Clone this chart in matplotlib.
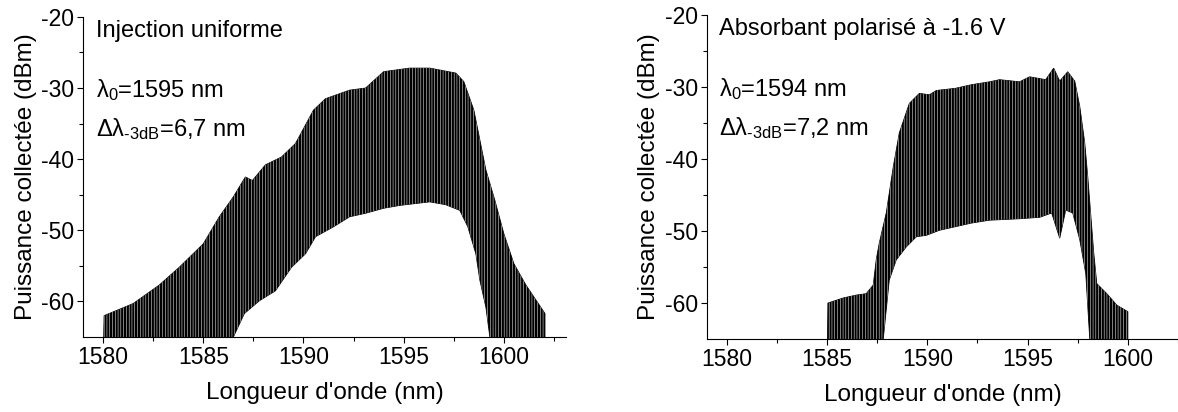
import numpy as np
import matplotlib
matplotlib.use('Agg')
from matplotlib import pyplot as plt

plt.rcParams['font.family'] = ['Liberation Sans', 'DejaVu Sans']
plt.rcParams['mathtext.fontset'] = 'custom'
plt.rcParams['mathtext.rm'] = 'Liberation Sans'
plt.rcParams['mathtext.it'] = 'Liberation Sans'
plt.rcParams['axes.unicode_minus'] = False
plt.rcParams['hatch.linewidth'] = 0.35

# spectrum envelopes (wavelength nm, power dBm)
# left panel: injection uniforme
up1_wl = [1580.0, 1580.05, 1581.5, 1582.8, 1583.8, 1585.0, 1585.8, 1586.5, 1587.1, 1587.45,
          1588.1, 1588.9, 1589.6, 1590.5, 1591.1, 1592.3, 1593.1, 1594.0, 1595.3, 1596.3,
          1597.6, 1598.0, 1598.5, 1598.8, 1599.1, 1599.55, 1600.0, 1600.5, 1601.1, 1602.05]
up1_db = [-70, -62.0, -60.3, -57.7, -55.2, -51.9, -48.1, -45.3, -42.5, -43.0,
          -40.8, -39.7, -37.8, -33.1, -31.5, -30.3, -30.0, -27.7, -27.2, -27.2,
          -27.9, -29.1, -33.1, -37.3, -41.5, -45.8, -50.5, -54.7, -57.7, -61.7]
lo1_wl = [1580.0, 1586.3, 1586.5, 1587.05, 1587.8, 1588.6, 1589.4, 1590.1, 1590.6, 1591.5,
          1592.3, 1593.1, 1594.0, 1594.8, 1596.3, 1597.1, 1597.8, 1598.2, 1598.6, 1598.8,
          1599.1, 1599.3, 1599.5, 1602.05]
lo1_db = [-70, -70, -65.0, -61.7, -59.9, -58.5, -55.2, -53.3, -50.9, -49.5,
          -48.1, -47.6, -46.9, -46.5, -46.0, -46.4, -47.2, -49.5, -53.3, -57.0,
          -60.8, -65.0, -70, -70]

# right panel: absorbant polarise a -1.6 V
up2_wl = [1585.0, 1585.04, 1585.8, 1586.45, 1586.95, 1587.3, 1587.45, 1587.6, 1587.95, 1588.3,
          1588.6, 1589.1, 1589.6, 1590.1, 1590.45, 1591.4, 1592.2, 1593.1, 1593.6, 1594.6,
          1595.1, 1595.9, 1596.3, 1596.6, 1597.0, 1597.35, 1597.6, 1597.85, 1598.0, 1598.3,
          1598.45, 1598.95, 1599.45, 1600.0]
up2_db = [-70, -60.0, -59.3, -58.9, -58.7, -57.5, -54.0, -51.7, -47.5, -41.1,
          -36.4, -32.3, -30.9, -31.1, -30.5, -30.2, -29.7, -29.3, -29.0, -29.3,
          -28.6, -29.0, -27.4, -29.2, -27.9, -29.2, -32.7, -37.8, -42.5, -53.1,
          -57.3, -58.7, -60.3, -61.2]
lo2_wl = [1585.0, 1587.7, 1587.8, 1588.1, 1588.45, 1588.95, 1589.45, 1589.95, 1590.6, 1591.4,
          1592.2, 1593.1, 1594.6, 1595.6, 1596.2, 1596.6, 1596.9, 1597.25, 1597.6, 1597.9,
          1598.1, 1598.2, 1600.0]
lo2_db = [-70, -70, -65.0, -56.8, -54.0, -52.2, -50.8, -50.6, -49.9, -49.4,
          -48.9, -48.5, -48.3, -48.1, -47.5, -51.0, -47.1, -47.5, -51.2, -55.9,
          -65.0, -70, -70]

titles = ['Injection uniforme', 'Absorbant polarisé à -1.6 V']
lambda0 = ['1595', '1594']
dlambda = ['6,7', '7,2']

fig = plt.figure(figsize=(11.78, 4.12), dpi=100)
ax1 = fig.add_axes([0.0705, 0.182, 0.41, 0.777])
ax2 = fig.add_axes([0.600, 0.177, 0.400, 0.787])

data = [(up1_wl, up1_db, lo1_wl, lo1_db), (up2_wl, up2_db, lo2_wl, lo2_db)]
xlims = [(1579.0, 1603.1), (1579.0, 1602.5)]

for i, ax in enumerate([ax1, ax2]):
    uw, ud, lw, ld = data[i]
    px = np.concatenate([uw, lw[::-1]])
    py = np.concatenate([ud, ld[::-1]])
    ax.fill(px, py, facecolor='black', edgecolor='black', linewidth=0.6)
    ax.fill(px, py, facecolor='none', edgecolor='white', linewidth=0, hatch='||||||')
    ax.set_xlim(*xlims[i])
    ax.set_ylim(-65, -20)
    ax.set_xticks([1580, 1585, 1590, 1595, 1600])
    ax.set_xticks(np.arange(1582.5, 1603, 5), minor=True)
    ax.set_yticks([-60, -50, -40, -30, -20])
    ax.set_yticks([-55, -45, -35, -25], minor=True)
    ax.spines['top'].set_visible(False)
    ax.spines['right'].set_visible(False)
    ax.tick_params(which='major', length=4.5, width=0.8, labelsize=16.5, pad=2)
    ax.tick_params(which='minor', length=3, width=0.8)
    ax.set_xlabel("Longueur d'onde (nm)", fontsize=17.5, labelpad=9)
    ax.set_ylabel('Puissance collectée (dBm)', fontsize=17.5, labelpad=3)
    ax.text(0.026, 0.955, titles[i], transform=ax.transAxes, fontsize=17, va='center')
    ax.text(0.026, 0.77, r'λ$_0$=' + lambda0[i] + ' nm', transform=ax.transAxes,
            fontsize=17, va='center')
    ax.text(0.026, 0.65, r'Δλ$_{\text{-3dB}}$=' + dlambda[i] + ' nm',
            transform=ax.transAxes, fontsize=17, va='center')

fig.savefig('out.png', dpi=100)
